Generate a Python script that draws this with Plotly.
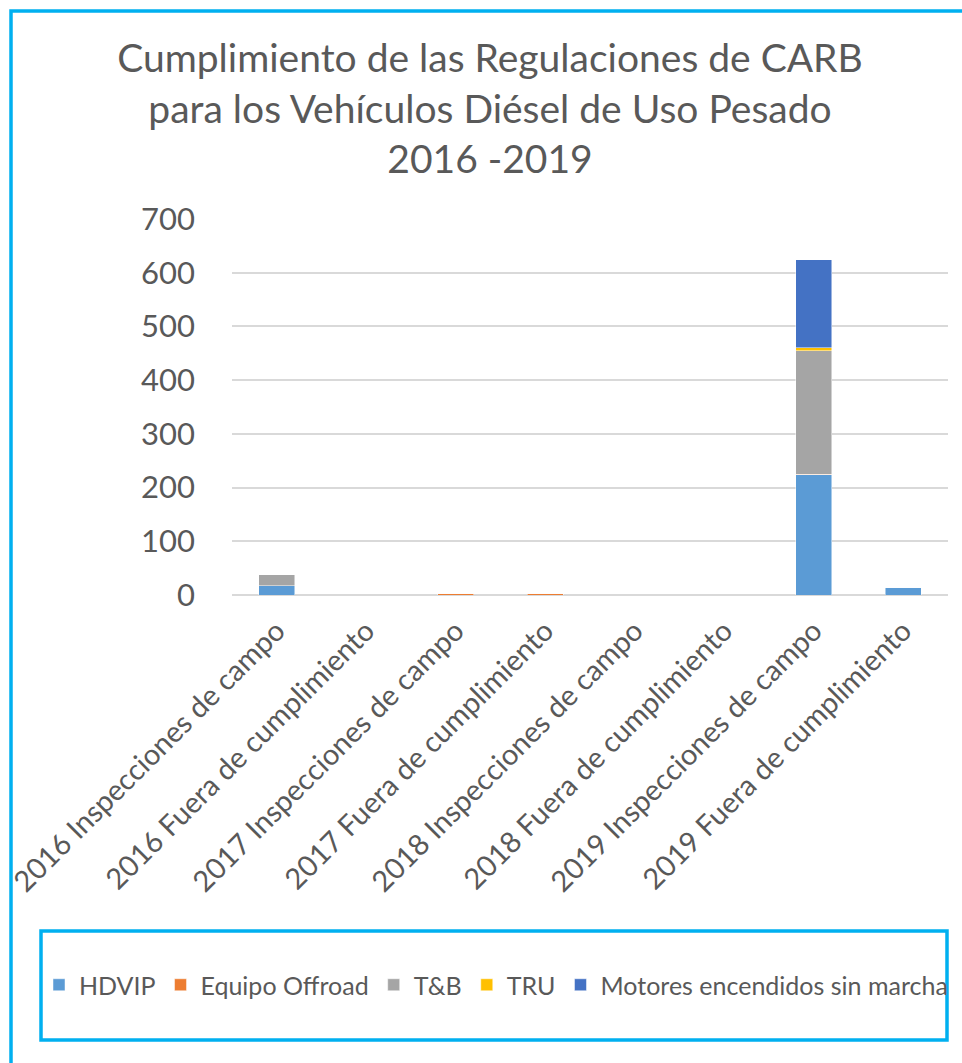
import plotly.graph_objects as go

categories = [
    "2016 Inspecciones de campo",
    "2016 Fuera de cumplimiento",
    "2017 Inspecciones de campo",
    "2017 Fuera de cumplimiento",
    "2018 Inspecciones de campo",
    "2018 Fuera de cumplimiento",
    "2019 Inspecciones de campo",
    "2019 Fuera de cumplimiento",
]
hdvip = [17, 0, 0, 0, 0, 0, 224, 14]
offroad = [0, 0, 3, 3, 0, 0, 1, 0]
tb = [21, 0, 0, 0, 0, 0, 230, 0]
tru = [0, 0, 0, 0, 0, 0, 5, 0]
motores = [0, 0, 0, 0, 0, 0, 164, 1]

series = [
    ("HDVIP", hdvip, "#5B9BD5"),
    ("Equipo Offroad", offroad, "#ED7D31"),
    ("T&B", tb, "#A5A5A5"),
    ("TRU", tru, "#FFC000"),
    ("Motores encendidos sin marcha", motores, "#4472C4"),
]

W, H = 962, 1063
ML, MR, MT, MB = 232, 14, 219, 468
PW = W - ML - MR
PH = H - MT - MB
py0 = H - MB  # pixel y of plot bottom


def px_x(px):
    return (px - ML) / PW


def px_y(py):
    return (py0 - py) / PH


fig = go.Figure()
for name, vals, col in series:
    fig.add_trace(go.Bar(
        x=categories, y=vals, name=name,
        marker=dict(color=col, line=dict(color="rgba(255,255,255,0.6)", width=0.8)),
    ))

FONT = "Lato"
TXT = "#595959"

fig.update_layout(
    width=W, height=H,
    barmode="stack", bargap=0.6,
    margin=dict(l=ML, r=MR, t=MT, b=MB, autoexpand=False),
    paper_bgcolor="white", plot_bgcolor="white",
    font=dict(family=FONT, color=TXT),
    title=dict(
        text="Cumplimiento de las Regulaciones de CARB<br>para los Vehículos Diésel de Uso Pesado<br>2016 -2019",
        x=490 / W, xref="container", xanchor="center",
        y=1 - 72 / H, yref="container", yanchor="middle",
        font=dict(family=FONT, size=39, color=TXT),
    ),
    xaxis=dict(
        tickangle=-45, tickfont=dict(family=FONT, size=29, color=TXT),
        showgrid=False, showline=False, ticks="", ticklabelstandoff=12,
    ),
    yaxis=dict(
        range=[0, 700], dtick=100, tickfont=dict(family=FONT, size=31, color=TXT),
        showgrid=True, gridcolor="#D9D9D9", gridwidth=1.5,
        zeroline=True, zerolinecolor="#D9D9D9", zerolinewidth=1.5,
        showline=False, ticks="", ticklabelstandoff=36,
    ),
    legend=dict(
        orientation="h", x=px_x(39), xanchor="left",
        y=px_y(985), yanchor="middle", traceorder="normal",
        font=dict(family=FONT, size=25, color=TXT),
        bgcolor="rgba(0,0,0,0)", itemwidth=30, tracegroupgap=0,
    ),
    shapes=[
        dict(type="rect", xref="paper", yref="paper",
             x0=px_x(11), x1=px_x(985), y0=px_y(11), y1=px_y(1080),
             line=dict(color="#00B0F0", width=3.5), fillcolor="rgba(0,0,0,0)", layer="above"),
        dict(type="rect", xref="paper", yref="paper",
             x0=px_x(41), x1=px_x(947), y0=px_y(931), y1=px_y(1040),
             line=dict(color="#00B0F0", width=3.5), fillcolor="rgba(0,0,0,0)", layer="above"),
    ],
)

fig.write_html(
    "out.html",
    config={"displayModeBar": False},
    post_script="document.body.style.margin='0';document.body.style.overflow='hidden';",
)
